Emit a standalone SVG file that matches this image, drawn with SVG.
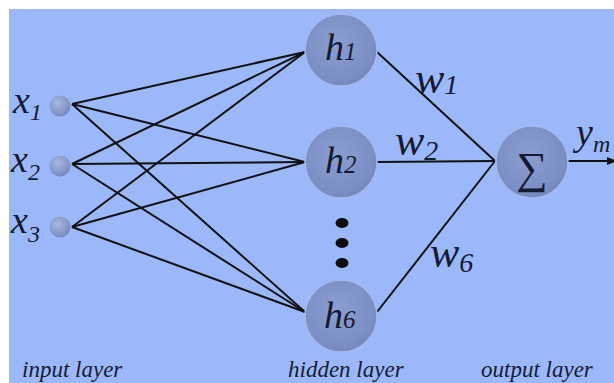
<svg xmlns="http://www.w3.org/2000/svg" width="614" height="383" viewBox="0 0 614 383">
  <defs>
    <radialGradient id="nodeFill" cx="0.45" cy="0.4" r="0.65">
      <stop offset="0" stop-color="#8b9ed2"/>
      <stop offset="0.8" stop-color="#7b8ec3"/>
      <stop offset="1" stop-color="#7082b6"/>
    </radialGradient>
    <radialGradient id="inFill" cx="0.4" cy="0.35" r="0.7">
      <stop offset="0" stop-color="#a9b9e2"/>
      <stop offset="1" stop-color="#7587bd"/>
    </radialGradient>
    <marker id="arrow" viewBox="0 0 10 10" refX="9" refY="5" markerWidth="5" markerHeight="5" orient="auto">
      <path d="M0,1 L10,5 L0,9 Z" fill="#111"/>
    </marker>
    <style>
      .bg { fill: #9bb8fb; }
      .node { fill: url(#nodeFill); stroke: #a6b8ec; stroke-width: 1.5; }
      .inp { fill: url(#inFill); }
      .wire { stroke: #111; stroke-width: 2; fill: none; }
      .lbl { font-family: "Liberation Serif", "Times New Roman", serif; font-style: italic; fill: #151a33; }
      .big { font-size: 38px; }
      .wt { font-size: 44px; }
      .cap { font-size: 23px; }
      .dot { fill: #0c0c0c; }
    </style>
  </defs>

  <rect x="0" y="0" width="614" height="383" fill="#ffffff"/>
  <rect class="bg" x="9" y="9" width="605" height="374"/>

  <!-- connections -->
  <g id="connectors">
    <!-- input to hidden -->
    <line class="wire" x1="72" y1="104" x2="305" y2="52"/>
    <line class="wire" x1="72" y1="104" x2="305" y2="162"/>
    <line class="wire" x1="72" y1="104" x2="305" y2="312"/>
    <line class="wire" x1="72" y1="164" x2="305" y2="52"/>
    <line class="wire" x1="72" y1="164" x2="305" y2="162"/>
    <line class="wire" x1="72" y1="164" x2="305" y2="312"/>
    <line class="wire" x1="72" y1="227" x2="305" y2="52"/>
    <line class="wire" x1="72" y1="227" x2="305" y2="162"/>
    <line class="wire" x1="72" y1="227" x2="305" y2="312"/>
    <!-- hidden to output -->
    <line class="wire" x1="377" y1="52" x2="495" y2="161"/>
    <line class="wire" x1="377" y1="162" x2="495" y2="161"/>
    <line class="wire" x1="377" y1="312" x2="495" y2="161"/>
    <!-- output -->
    <line class="wire" x1="568" y1="161" x2="616" y2="161" marker-end="url(#arrow)"/>
  </g>

  <!-- input layer -->
  <g id="x1">
    <circle class="inp" cx="60" cy="106" r="10.5"/>
    <text class="lbl big" x="13" y="113">x<tspan font-size="24" dy="7">1</tspan></text>
  </g>
  <g id="x2">
    <circle class="inp" cx="60" cy="166" r="10.5"/>
    <text class="lbl big" x="11" y="172">x<tspan font-size="24" dy="8">2</tspan></text>
  </g>
  <g id="x3">
    <circle class="inp" cx="60" cy="227" r="10.5"/>
    <text class="lbl big" x="11" y="233">x<tspan font-size="24" dy="9">3</tspan></text>
  </g>

  <!-- hidden layer -->
  <g id="h1">
    <circle class="node" cx="341" cy="50" r="36"/>
    <text class="lbl big" x="325" y="60">h<tspan font-size="25">1</tspan></text>
  </g>
  <g id="h2">
    <circle class="node" cx="341" cy="162" r="36"/>
    <text class="lbl big" x="325" y="173">h<tspan font-size="25">2</tspan></text>
  </g>
  <g id="h6">
    <circle class="node" cx="341" cy="316" r="36"/>
    <text class="lbl big" x="324" y="328">h<tspan font-size="25">6</tspan></text>
  </g>
  <g id="ellipsis">
    <ellipse class="dot" cx="342" cy="223" rx="6.5" ry="5"/>
    <ellipse class="dot" cx="342" cy="243" rx="6.5" ry="5"/>
    <ellipse class="dot" cx="342" cy="263" rx="6.5" ry="5"/>
  </g>

  <!-- output layer -->
  <g id="sum">
    <circle class="node" cx="532" cy="162" r="36"/>
    <text x="532" y="183" text-anchor="middle" font-family="Liberation Serif, Times New Roman, serif" font-size="44" fill="#151a33">∑</text>
    <text class="lbl big" x="576" y="145">y<tspan font-size="24" dy="7">m</tspan></text>
  </g>

  <!-- weight labels -->
  <g id="weights">
    <text class="lbl wt" x="415" y="93">w<tspan font-size="28" dy="1">1</tspan></text>
    <text class="lbl wt" x="395" y="155">w<tspan font-size="28" dy="5">2</tspan></text>
    <text class="lbl wt" x="430" y="267">w<tspan font-size="28" dy="5">6</tspan></text>
  </g>

  <!-- layer captions -->
  <g id="captions">
    <text class="lbl cap" x="22" y="377">input layer</text>
    <text class="lbl cap" x="288" y="377">hidden layer</text>
    <text class="lbl cap" x="481" y="377">output layer</text>
  </g>
</svg>
